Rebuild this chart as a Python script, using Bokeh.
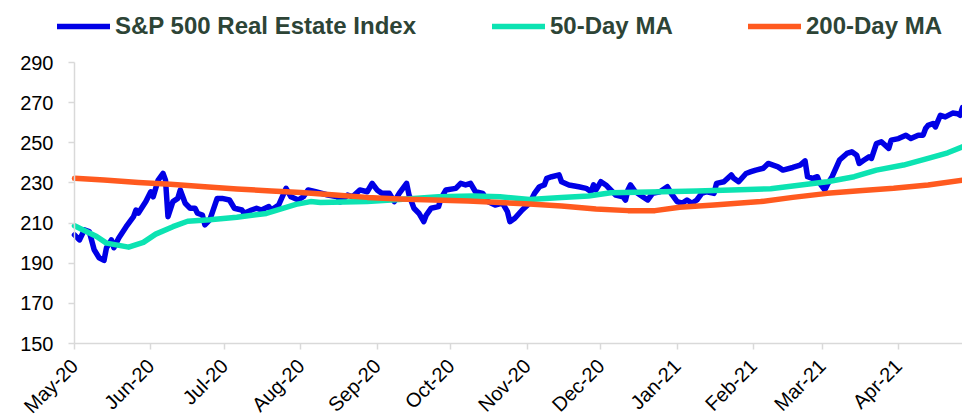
import pandas as pd
from bokeh.plotting import figure
from bokeh.models import Range1d, FixedTicker, Legend, LegendItem, ColumnDataSource
from bokeh.embed import file_html
from bokeh.resources import INLINE

series_names = ["S&P 500 Real Estate Index", "50-Day MA", "200-Day MA"]
series_colors = ["#0000E6", "#0CE3B2", "#FF5A1F"]

index_dates = [
    "2020-05-01", "2020-05-03", "2020-05-05", "2020-05-07", "2020-05-09", "2020-05-11", "2020-05-13", "2020-05-14",
    "2020-05-16", "2020-05-17", "2020-05-19", "2020-05-22", "2020-05-25", "2020-05-26", "2020-05-27", "2020-05-30",
    "2020-06-01", "2020-06-02", "2020-06-04", "2020-06-06", "2020-06-07", "2020-06-08", "2020-06-10", "2020-06-12",
    "2020-06-13", "2020-06-15", "2020-06-17", "2020-06-19", "2020-06-20", "2020-06-22", "2020-06-23", "2020-06-25",
    "2020-06-28", "2020-06-30",
    "2020-07-03", "2020-07-05", "2020-07-08", "2020-07-09", "2020-07-12", "2020-07-14", "2020-07-16", "2020-07-19",
    "2020-07-20", "2020-07-23", "2020-07-26", "2020-07-28", "2020-07-31",
    "2020-08-02", "2020-08-04", "2020-08-07", "2020-08-12", "2020-08-16", "2020-08-17", "2020-08-20", "2020-08-22",
    "2020-08-25", "2020-08-28", "2020-08-30",
    "2020-09-01", "2020-09-03", "2020-09-06", "2020-09-08", "2020-09-10", "2020-09-13", "2020-09-14", "2020-09-16",
    "2020-09-18", "2020-09-20", "2020-09-21", "2020-09-23", "2020-09-26", "2020-09-27", "2020-09-29",
    "2020-10-03", "2020-10-05", "2020-10-07", "2020-10-09", "2020-10-11", "2020-10-14", "2020-10-16", "2020-10-19",
    "2020-10-22", "2020-10-24", "2020-10-25", "2020-10-27", "2020-10-30",
    "2020-11-02", "2020-11-04", "2020-11-06", "2020-11-08", "2020-11-09", "2020-11-11", "2020-11-14", "2020-11-15",
    "2020-11-18", "2020-11-22", "2020-11-25", "2020-11-27", "2020-11-28", "2020-11-29",
    "2020-12-01", "2020-12-03", "2020-12-05", "2020-12-07", "2020-12-10", "2020-12-11", "2020-12-12", "2020-12-13",
    "2020-12-15", "2020-12-18", "2020-12-20", "2020-12-22", "2020-12-25", "2020-12-28", "2020-12-30",
    "2021-01-01", "2021-01-03", "2021-01-05", "2021-01-07", "2021-01-09", "2021-01-11", "2021-01-13", "2021-01-16",
    "2021-01-17", "2021-01-20", "2021-01-23", "2021-01-24", "2021-01-26", "2021-01-29", "2021-01-31",
    "2021-02-02", "2021-02-05", "2021-02-07", "2021-02-11", "2021-02-13", "2021-02-17", "2021-02-20", "2021-02-22",
    "2021-02-23", "2021-02-25", "2021-02-27", "2021-02-28",
    "2021-03-02", "2021-03-03", "2021-03-05", "2021-03-08", "2021-03-11", "2021-03-13", "2021-03-15", "2021-03-16",
    "2021-03-18", "2021-03-20", "2021-03-21", "2021-03-23", "2021-03-25", "2021-03-28", "2021-03-29",
    "2021-04-01", "2021-04-04", "2021-04-06", "2021-04-09", "2021-04-11", "2021-04-12", "2021-04-13", "2021-04-15",
    "2021-04-16", "2021-04-18", "2021-04-20", "2021-04-23", "2021-04-25", "2021-04-26", "2021-04-27",
]
index_values = [
    204.1, 201.6, 206.6, 205.8, 196.7, 192.7, 191.4, 197.7, 201.6, 197.7, 202.6, 208.2, 213.2, 216.5, 215.0, 220.7,
    225.6, 223.1, 231.4, 234.7, 231.4, 213.2, 220.7, 222.3, 226.5, 219.9, 217.4, 217.4, 214.9, 214.0, 209.1, 211.6,
    222.3, 222.3,
    221.5, 217.4, 216.5, 214.9, 216.5, 217.4, 216.5, 218.2, 216.5, 219.0, 227.3, 223.1, 221.5,
    223.1, 226.5, 225.6, 224.0, 223.1, 220.5, 224.0, 223.1, 226.5, 225.6, 229.8,
    226.5, 224.8, 224.8, 220.7, 224.8, 229.8, 224.0, 217.4, 214.9, 210.7, 214.0, 217.4, 218.2, 222.3, 226.5,
    227.3, 229.8, 229.0, 229.8, 225.6, 224.8, 220.7, 219.0, 219.9, 215.7, 210.7, 212.4, 216.5,
    219.9, 224.8, 228.1, 229.0, 232.3, 233.1, 234.0, 230.6, 229.0, 228.1, 227.3, 225.6, 229.0, 226.5,
    230.6, 229.0, 226.5, 224.0, 223.1, 221.5, 226.5, 229.0, 225.6, 223.1, 221.5, 224.8, 225.6, 228.1, 224.0,
    220.7, 219.9, 221.5, 219.9, 221.5, 224.8, 225.6, 224.8, 229.8, 230.6, 234.0, 232.3, 230.6, 234.7, 235.6,
    236.4, 237.3, 239.7, 238.0, 236.4, 237.7, 238.9, 241.0, 233.1, 232.3, 233.1, 229.8,
    226.5, 229.0, 233.1, 241.4, 244.7, 245.5, 243.8, 239.7, 241.4, 243.0, 242.2, 249.6, 250.5, 247.2, 251.3,
    252.1, 253.8, 252.1, 253.8, 253.8, 257.1, 258.7, 259.6, 257.9, 263.7, 262.9, 264.8, 264.5, 263.7, 267.5,
]

ma50_dates = [
    "2020-05-01", "2020-05-10", "2020-05-14", "2020-05-23", "2020-05-29", "2020-06-03", "2020-06-10", "2020-06-16",
    "2020-06-25", "2020-07-06", "2020-07-18", "2020-07-25", "2020-07-30", "2020-08-05", "2020-08-09", "2020-08-28",
    "2020-09-10", "2020-09-26", "2020-10-10", "2020-10-21", "2020-11-02", "2020-11-15", "2020-11-26", "2020-12-05",
    "2020-12-26", "2021-01-09", "2021-01-23", "2021-02-08", "2021-02-17", "2021-03-03", "2021-03-14", "2021-03-23",
    "2021-04-03", "2021-04-13", "2021-04-21", "2021-04-27",
]
ma50_values = [
    208.7, 203.3, 200.0, 198.0, 200.4, 204.5, 208.2, 210.9,
    211.6, 212.9, 214.8, 217.4, 219.3, 220.7, 220.2, 220.7,
    221.8, 223.1, 223.5, 223.1, 221.8, 222.7, 223.5, 225.1,
    225.6, 226.0, 226.5, 227.1, 228.5, 230.6, 233.1, 236.4,
    238.9, 242.2, 245.0, 248.0,
]

ma200_dates = [
    "2020-05-01", "2020-05-13", "2020-05-27", "2020-06-09", "2020-06-23", "2020-07-06", "2020-07-20", "2020-08-01",
    "2020-08-15", "2020-08-28", "2020-09-10", "2020-09-24", "2020-10-08", "2020-10-21", "2020-11-02", "2020-11-15",
    "2020-11-29", "2020-12-12", "2020-12-23", "2021-01-02", "2021-01-16", "2021-02-04", "2021-02-17", "2021-03-03",
    "2021-03-16", "2021-03-30", "2021-04-13", "2021-04-27",
]
ma200_values = [
    232.3, 231.4, 230.2, 229.3, 228.1, 227.0, 226.0, 225.2,
    224.0, 222.8, 222.0, 221.5, 221.0, 220.2, 219.5, 218.5,
    217.0, 216.2, 216.2, 217.9, 219.0, 220.7, 222.8, 224.8,
    226.1, 227.3, 229.0, 231.4,
]

tick_dates = ["2020-05-01", "2020-06-01", "2020-07-01", "2020-08-01", "2020-09-01", "2020-10-01",
              "2020-11-01", "2020-12-01", "2021-01-01", "2021-02-01", "2021-03-01", "2021-04-01"]
tick_labels = ["May-20", "Jun-20", "Jul-20", "Aug-20", "Sep-20", "Oct-20",
               "Nov-20", "Dec-20", "Jan-21", "Feb-21", "Mar-21", "Apr-21"]
y_ticks = [150, 170, 190, 210, 230, 250, 270, 290]
y_axis_bounds = (150, 290)
x_axis_dates = ("2020-05-01", "2021-04-27")


def ms(d):
    return float(pd.Timestamp(d).value // 10**6)


W, H = 962, 417
AX_LEFT_PX, AX_TOP_PX, AX_BOTTOM_PX = 74, 62, 343   # where the axes sit in the picture

# The frame covers the whole figure; both axes are pinned with fixed_location so their labels
# and the legend live inside the (unclipped) frame area.
x0, x1 = ms(x_axis_dates[0]), ms(x_axis_dates[1])
ms_per_px = (x1 - x0) / (W - AX_LEFT_PX)
y_per_px = (y_axis_bounds[1] - y_axis_bounds[0]) / (AX_BOTTOM_PX - AX_TOP_PX)
x_range = Range1d(x0 - AX_LEFT_PX * ms_per_px, x1)
y_range = Range1d(y_axis_bounds[0] - (H - AX_BOTTOM_PX) * y_per_px,
                  y_axis_bounds[1] + AX_TOP_PX * y_per_px)

p = figure(width=W, height=H, output_backend="svg", toolbar_location=None,
           x_axis_type="datetime", x_range=x_range, y_range=y_range,
           min_border_left=0, min_border_right=0, min_border_top=0, min_border_bottom=0)
p.outline_line_color = None
p.xgrid.visible = False
p.ygrid.visible = False
p.background_fill_color = "white"
p.border_fill_color = "white"

renderers = []
for dates, vals, color in [(index_dates, index_values, series_colors[0]),
                           (ma50_dates, ma50_values, series_colors[1]),
                           (ma200_dates, ma200_values, series_colors[2])]:
    src = ColumnDataSource(dict(x=[ms(d) for d in dates], y=vals))
    r = p.line("x", "y", source=src, line_color=color, line_width=5.5,
               line_join="round", line_cap="round")
    renderers.append(r)

# axes
xt = [ms(d) for d in tick_dates]
p.xaxis.ticker = FixedTicker(ticks=xt)
p.xaxis.major_label_overrides = {t: lab for t, lab in zip(xt, tick_labels)}
p.xaxis.fixed_location = y_axis_bounds[0]
p.xaxis.bounds = (x0, x1)
p.yaxis.ticker = FixedTicker(ticks=y_ticks)
p.yaxis.fixed_location = x0
p.yaxis.bounds = y_axis_bounds

for ax in (p.xaxis[0], p.yaxis[0]):
    ax.axis_line_color = "#D9D9D9"
    ax.axis_line_width = 1.5
    ax.major_tick_line_color = "#D9D9D9"
    ax.major_tick_line_width = 1.5
    ax.major_tick_out = 6
    ax.major_tick_in = 0
    ax.minor_tick_line_color = None
    ax.major_label_text_font = "Liberation Sans"
    ax.major_label_text_color = "#000000"
    ax.major_label_text_font_size = "20px"

p.yaxis.major_label_standoff = 15
p.xaxis.major_label_orientation = 0.7854
p.xaxis.major_label_standoff = 13
p.xaxis.major_label_text_font_size = "20px"

# one legend per series so each entry sits where the reference has it
legend_x = [57, 492, 748]
for name, r, lx in zip(series_names, renderers, legend_x):
    lg = Legend(items=[LegendItem(label=name, renderers=[r])],
                orientation="horizontal", location=(lx, 377),
                label_text_font="Liberation Sans", label_text_font_style="bold",
                label_text_font_size="24px", label_text_color="#2D4436",
                glyph_width=53, glyph_height=24, label_standoff=5,
                padding=0, margin=0, border_line_color=None, background_fill_alpha=0)
    p.add_layout(lg, "center")

open("out.html", "w").write(file_html(p, INLINE))
